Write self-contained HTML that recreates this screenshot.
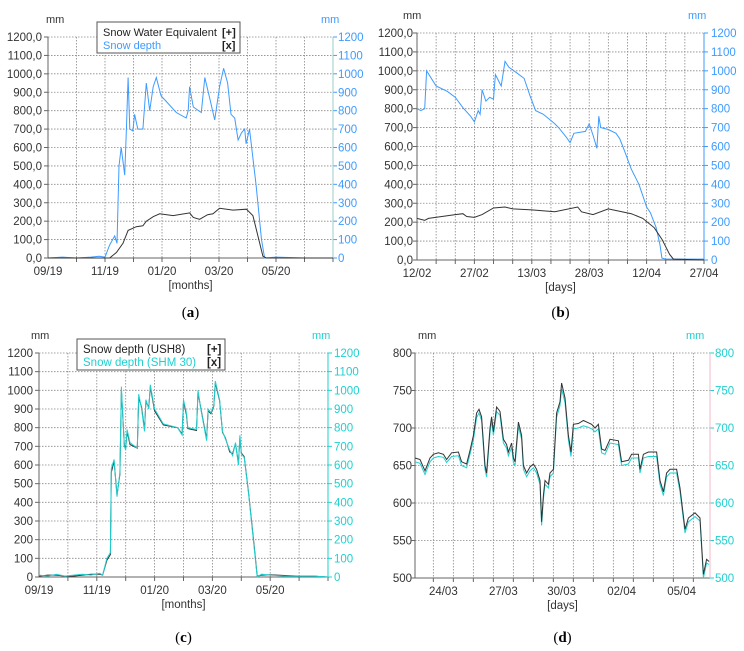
<!DOCTYPE html>
<html><head><meta charset="utf-8">
<style>
body{margin:0;background:#fff;}
svg{display:block;font-family:"Liberation Sans",Arial,sans-serif;}
</style></head>
<body>
<svg id="fig" width="744" height="651" viewBox="0 0 744 651" xmlns="http://www.w3.org/2000/svg"></svg>
<script>
// ---- Panel a data (x = months since 01/09/2019) ----
const aMonthLabels = ["09/19","11/19","01/20","03/20","05/20"];
const aDepthX = [0,0.5,1,1.5,1.8,2.0,2.16,2.34,2.42,2.49,2.57,2.69,2.75,2.81,2.87,2.98,3.04,3.15,3.33,3.45,3.57,3.69,3.8,3.97,4.15,4.5,4.85,4.92,4.97,5.1,5.38,5.5,5.67,5.85,6.02,6.16,6.3,6.42,6.55,6.67,6.79,6.9,6.95,7.07,7.3,7.49,7.6,8,9,10];
const aDepthY = [0,5,0,5,10,5,70,120,80,500,600,450,700,980,700,690,780,700,700,950,800,930,980,880,850,790,760,800,930,820,790,980,870,750,930,1030,950,780,760,640,680,700,620,700,400,100,0,5,0,0];
const aSweX = [0,1,2,2.16,2.4,2.63,2.81,3.1,3.33,3.45,3.7,3.92,4.39,4.97,5.1,5.32,5.6,5.79,6.02,6.49,6.96,7.19,7.54,7.66,8,10];
const aSweY = [0,0,0,0,30,80,150,170,175,200,225,240,230,245,220,210,235,240,270,260,265,230,10,0,0,0];
// ---- Panel b data (x = days since 12/02) ----
const bDayLabels = ["12/02","27/02","13/03","28/03","12/04","27/04"];
const bDepthX = [0,1,2,2.5,5,8,10,12,14,15,16,16.5,17,18,19,20,20.5,22,23,24,26,28,29.5,31,33,36,37,39,40,41,44,45,46,47,47.5,48,50,52,53,54,56,58,59,60,61,62.5,63.5,64,65,70,75];
const bDepthY = [800,790,800,1000,920,890,860,805,760,730,790,770,900,840,860,850,980,920,1050,1020,990,960,870,790,770,720,700,650,620,670,680,720,660,590,760,700,690,670,640,590,480,400,340,280,250,170,80,10,5,5,5];
const bSweX = [0,2,3,10,12,13,15,17,20,23,25,30,36,42,43,46,50,56,59,62,64,66,67,75];
const bSweY = [220,210,220,240,245,230,225,240,275,280,270,265,255,280,255,240,270,245,220,170,110,30,5,0];
// ---- Panel c data (x = months since 01/09/2019) ----
const cMonthLabels = ["09/19","11/19","01/20","03/20","05/20"];
const cX = [0,0.3,0.6,0.9,1.2,1.5,1.8,2.1,2.2,2.35,2.47,2.5,2.6,2.7,2.8,2.85,2.95,3.0,3.05,3.15,3.4,3.45,3.55,3.65,3.7,3.8,3.85,4.0,4.3,4.8,4.95,5.0,5.1,5.15,5.45,5.5,5.6,5.8,5.85,5.95,6.05,6.1,6.25,6.35,6.45,6.6,6.7,6.8,6.9,6.95,7.0,7.1,7.25,7.45,7.55,7.7,8,8.5,9,9.5,10];
const cShmY = [10,5,15,5,10,15,10,20,10,100,130,580,630,430,560,1020,700,680,790,720,690,980,900,780,950,900,1030,900,820,800,760,950,880,800,790,1000,900,730,900,880,920,1050,950,780,740,680,650,720,600,760,660,640,450,150,0,15,10,5,5,5,0];
const cUshY = [5,10,10,5,5,10,15,15,10,90,120,560,620,440,550,1000,710,690,780,710,690,960,910,790,940,910,1020,890,815,800,765,940,870,795,785,990,905,740,890,875,915,1040,945,775,745,670,660,715,610,745,665,645,455,160,5,10,12,8,5,5,0];
// ---- Panel d data (x = half-days from left axis) ----
const dDayLabels = ["24/03","27/03","30/03","02/04","05/04"];
const dX = [0,0.25,0.5,0.75,0.92,1.17,1.42,1.58,1.83,2.17,2.33,2.58,2.75,2.92,3.08,3.2,3.33,3.5,3.58,3.75,3.83,3.92,4.08,4.25,4.42,4.58,4.67,4.83,4.92,5.0,5.17,5.33,5.42,5.58,5.75,5.92,6.08,6.25,6.33,6.42,6.5,6.67,6.75,6.92,7.08,7.25,7.33,7.5,7.67,7.8,7.92,8.17,8.42,8.67,8.83,9.0,9.17,9.33,9.5,9.75,10.17,10.33,10.67,10.83,11.17,11.25,11.42,11.67,12.08,12.25,12.42,12.58,12.75,13.08,13.25,13.5,13.67,14.0,14.25,14.42,14.58,14.7];
const dUshY = [660,658,643,660,665,667,665,658,667,668,655,652,670,690,720,725,715,650,640,700,715,695,728,722,685,678,668,680,660,655,708,690,650,640,648,652,645,630,575,610,630,625,640,645,720,735,760,740,690,668,705,706,710,707,705,700,705,672,670,685,683,655,657,665,665,645,665,668,668,630,615,640,645,645,620,565,580,587,580,505,525,522];
const dShmY = [655,653,638,655,660,662,661,654,662,663,650,647,665,684,714,720,710,645,635,694,710,690,722,717,680,673,663,674,654,650,702,685,645,635,643,647,640,625,570,605,625,620,635,640,714,730,752,734,684,662,699,700,703,701,699,695,699,667,665,680,678,650,652,660,660,640,660,662,662,625,610,635,640,640,615,560,575,582,576,500,520,518];

const NS="http://www.w3.org/2000/svg";
const fig=document.getElementById('fig');
function mk(tag,attrs,parent){const e=document.createElementNS(NS,tag);for(const k in attrs)e.setAttribute(k,attrs[k]);(parent||fig).appendChild(e);return e;}
function txt(s,attrs,parent){const e=mk('text',attrs,parent);e.textContent=s;return e;}

function panel(p){
  const g=mk('g',{});
  
  
  const sx=v=>p.x0+(v-p.xmin)/(p.xmax-p.xmin)*(p.x1-p.x0);
  const sy=v=>p.yb-(v-p.ymin)/(p.ymax-p.ymin)*(p.yb-p.yt);
  for(let v=p.ymin;v<=p.ymax+1e-9;v+=p.ystep){
    const y=sy(v);
    if(v>p.ymin){const gl=mk('line',{x1:p.x0,x2:p.x1,y1:y,y2:y,stroke:'#888','stroke-width':0.8,'stroke-dasharray':'1.5,1.5'},g);
      
      }
    const lt=txt(p.leftFmt(v),{x:p.lx,y:y+4,'text-anchor':'end','font-size':11.5,fill:'#333'},g);
    
    
    const rt=txt(String(v),{x:p.rx,y:y+4,'font-size':11.5,fill:p.rcol},g);
    
    
    mk('line',{x1:p.x1,x2:p.x1+4,y1:y,y2:y,stroke:p.rcol,'stroke-width':1},g);
    mk('line',{x1:p.x0-4,x2:p.x0,y1:y,y2:y,stroke:'#666','stroke-width':1},g);
  }
  p.vgrid.forEach(v=>{const x=sx(v);
    const gl=mk('line',{x1:x,x2:x,y1:p.yt,y2:p.yb,stroke:'#888','stroke-width':0.8,'stroke-dasharray':'1.5,1.5'},g);
    
    
    mk('line',{x1:x,x2:x,y1:p.yb,y2:p.yb+4,stroke:'#666','stroke-width':1},g);
  });
  p.xlabels.forEach((s,i)=>{
    const t=txt(s,{x:sx(p.xlabelPos[i]),y:p.yb+17,'text-anchor':'middle','font-size':11.5,fill:'#333'},g);
    
    
  });
  mk('line',{x1:p.x0,x2:p.x0,y1:p.yt,y2:p.yb,stroke:'#666','stroke-width':1},g);
  mk('line',{x1:p.x0,x2:p.x1,y1:p.yb,y2:p.yb,stroke:'#666','stroke-width':1},g);
  mk('line',{x1:p.x1,x2:p.x1,y1:p.yt,y2:p.yb,stroke:p.raxis,'stroke-width':1},g);
  const ul=txt('mm',{x:p.mmL,y:p.yt-14,'font-size':11,fill:'#333'},g);
  
  
  const ur=txt('mm',{x:p.mmR,y:p.yt-14,'font-size':11,fill:p.rcol},g);
  
  
  const xt=txt(p.xtitle,{x:(p.x0+p.x1)/2,y:p.yb+31,'text-anchor':'middle','font-size':11.5,fill:'#333'},g);
  
  
  const cap=txt('',{x:(p.x0+p.x1)/2+p.capdx,y:p.capy,'text-anchor':'middle','font-size':15,'font-family':'"Liberation Serif",serif',fill:'#000'},g);
  cap.innerHTML='(<tspan font-weight="bold">'+p.cap+'</tspan>)';
  
  
  p.series.forEach(s=>{
    const d=s.x.map((v,i)=>(i?'L':'M')+sx(v).toFixed(1)+','+sy(s.y[i]).toFixed(1)).join('');
    const path=mk('path',{d:d,fill:'none',stroke:s.col,'stroke-width':s.w||1},g);
    
    
  });
  return {g,sx,sy};
}

const fmtComma=v=>(v.toFixed(1)).replace('.',',');
const blue='#3d9bff', cyan='#1fd0d0';

const pa=panel({name:'panel-a',x0:48,x1:333,yt:37,yb:258,xmin:0,xmax:10,ymin:0,ymax:1200,ystep:100,
  leftFmt:fmtComma,lx:42,rx:338,rcol:blue,raxis:'#9cc',mmL:46,mmR:321,
  vgrid:[1,2,3,4,5,6,7,8,9,10],xlabels:aMonthLabels,xlabelPos:[0,2,4,6,8],xtitle:'[months]',cap:'a',capy:317,capdx:0,
  series:[{name:'snow-depth-line',x:aDepthX,y:aDepthY,col:blue},{name:'swe-line',x:aSweX,y:aSweY,col:'#333'}]});
const pb=panel({name:'panel-b',x0:417,x1:704,yt:33,yb:260,xmin:0,xmax:75,ymin:0,ymax:1200,ystep:100,
  leftFmt:fmtComma,lx:413,rx:711,rcol:blue,raxis:blue,mmL:403,mmR:688,
  vgrid:[5,10,15,20,25,30,35,40,45,50,55,60,65,70,75],xlabels:bDayLabels,xlabelPos:[0,15,30,45,60,75],xtitle:'[days]',cap:'b',capy:317,capdx:0,
  series:[{name:'snow-depth-line',x:bDepthX,y:bDepthY,col:blue},{name:'swe-line',x:bSweX,y:bSweY,col:'#333'}]});
const pc=panel({name:'panel-c',x0:39,x1:328,yt:353,yb:577,xmin:0,xmax:10,ymin:0,ymax:1200,ystep:100,
  leftFmt:v=>String(v),lx:33,rx:334,rcol:cyan,raxis:cyan,mmL:31,mmR:312,
  vgrid:[1,2,3,4,5,6,7,8,9,10],xlabels:cMonthLabels,xlabelPos:[0,2,4,6,8],xtitle:'[months]',cap:'c',capy:642,capdx:0,
  series:[{name:'ush8-line',x:cX,y:cUshY,col:'#333'},{name:'shm30-line',x:cX,y:cShmY,col:cyan}]});
const pd=panel({name:'panel-d',x0:415,x1:710,yt:353,yb:578,xmin:0,xmax:14.75,ymin:500,ymax:800,ystep:50,
  leftFmt:v=>String(v),lx:412,rx:715,rcol:cyan,raxis:'#f3b8c8',mmL:418,mmR:686,
  vgrid:[0.917,1.917,2.917,3.917,4.917,5.917,6.917,7.917,8.917,9.917,10.917,11.917,12.917,13.917],xlabels:dDayLabels,xlabelPos:[1.417,4.417,7.333,10.333,13.333],xtitle:'[days]',cap:'d',capy:642,capdx:0,
  series:[{name:'shm30-line',x:dX,y:dShmY,col:cyan},{name:'ush8-line',x:dX,y:dUshY,col:'#333'}]});

function legend(x,y,w,h,l1,l2,c2,fs){
  const g=mk('g',{});
  
  
  mk('rect',{x:x,y:y,width:w,height:h,fill:'#fff',stroke:'#555','stroke-width':1},g);
  const e1=txt(l1,{x:x+6,y:y+14,'font-size':fs,fill:'#222'},g);
  
  
  txt('[+]',{x:x+w-18,y:y+14,'font-size':fs,'font-weight':'bold',fill:'#222'},g);
  const e2=txt(l2,{x:x+6,y:y+27,'font-size':fs,fill:c2},g);
  
  
  txt('[x]',{x:x+w-18,y:y+27,'font-size':fs,'font-weight':'bold',fill:'#222'},g);
}
legend(97,22,143,31,'Snow Water Equivalent','Snow depth',blue,11);
legend(77,339,148,31,'Snow depth (USH8)','Snow depth (SHM 30)',cyan,11.5);
</script>
</body></html>
